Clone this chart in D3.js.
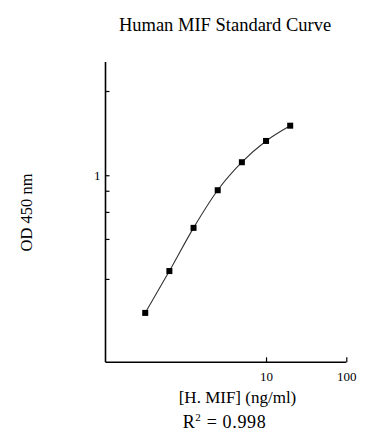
<!DOCTYPE html>
<html>
<head>
<meta charset="utf-8">
<script src="https://cdn.jsdelivr.net/npm/d3@7"></script>
<style>
  body { margin: 0; background: #fff; }
  text { font-family: "Liberation Serif", "Times New Roman", serif; fill: #000; }
</style>
</head>
<body>
<div id="chart"></div>
<script>
// standard concentrations (ng/ml) and OD readings
const concentrations = [0.3125, 0.625, 1.25, 2.5, 5, 10, 20];
const odValues = [0.138, 0.252, 0.469, 0.806, 1.206, 1.638, 2.04];
const xTicks = [10, 100];
const yTicks = [0.225, 0.4, 0.59, 0.8, 1, 3.36];
const yTickLabels = { 1: "1" };

const width = 388, height = 444;

const svg = d3.select("#chart").append("svg")
    .attr("width", width)
    .attr("height", height);

// log-log axes
const x = d3.scaleLog().domain([0.1, 100]).range([105.5, 346.3]);
const y = d3.scaleLog().domain([0.0678, 5.1]).range([362.3, 62]);

// x axis, ticks pointing in
const xAxis = d3.axisBottom(x)
    .tickValues(xTicks)
    .tickSize(-5)
    .tickPadding(9)
    .tickFormat(d3.format("d"));
const gx = svg.append("g")
    .attr("transform", `translate(0,${y.range()[0]})`)
    .call(xAxis);
gx.select(".domain").attr("d", `M${x.range()[0]},0H${x.range()[1]}`);

// y axis
const yAxis = d3.axisLeft(y)
    .tickValues(yTicks)
    .tickSize(-4)
    .tickPadding(5)
    .tickFormat(d => yTickLabels[d] || "");
const gy = svg.append("g")
    .attr("transform", `translate(${x.range()[0]},0)`)
    .call(yAxis);
gy.select(".domain").attr("d", `M0,${y.range()[1]}V${y.range()[0]}`);

svg.selectAll(".domain").attr("stroke", "#000").attr("stroke-width", 1.6);
svg.selectAll(".tick line").attr("stroke", "#000").attr("stroke-width", 1.2);
svg.selectAll(".tick text")
    .style("font-family", "'Liberation Serif', serif")
    .style("font-size", "13px")
    .attr("fill", "#000");

// curve through standards
const pts = concentrations.map((c, i) => [x(c), y(odValues[i])]);
svg.append("path")
    .datum(pts)
    .attr("fill", "none")
    .attr("stroke", "#333")
    .attr("stroke-width", 1.1)
    .attr("d", d3.line().curve(d3.curveMonotoneX));

svg.selectAll(".pt")
    .data(pts)
    .join("rect")
    .attr("class", "pt")
    .attr("x", d => d[0] - 3)
    .attr("y", d => d[1] - 3)
    .attr("width", 6)
    .attr("height", 6)
    .attr("fill", "#000");

// titles
svg.append("text")
    .attr("x", 225)
    .attr("y", 31)
    .attr("text-anchor", "middle")
    .style("font-size", "18.5px")
    .text("Human MIF Standard Curve");

svg.append("text")
    .attr("x", 237.5)
    .attr("y", 403)
    .attr("text-anchor", "middle")
    .style("font-size", "17px")
    .text("[H. MIF] (ng/ml)");

const r2 = svg.append("text")
    .attr("x", 182.7)
    .attr("y", 428)
    .attr("textLength", 83)
    .attr("lengthAdjust", "spacing")
    .style("font-size", "18px");
r2.append("tspan").text("R");
r2.append("tspan").attr("dy", -7).style("font-size", "11px").text("2");
r2.append("tspan").attr("dy", 7).text(" = 0.998");

svg.append("text")
    .attr("transform", "translate(31.5,212.5) rotate(-90)")
    .attr("text-anchor", "middle")
    .attr("fill", "#333")
    .style("font-size", "16.5px")
    .text("OD 450 nm");
</script>
</body>
</html>
